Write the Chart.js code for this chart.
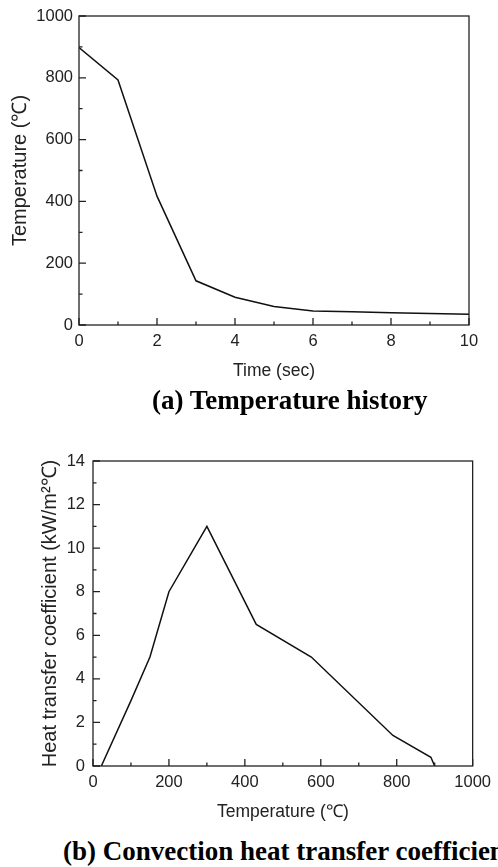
<!DOCTYPE html>
<html>
<head>
<meta charset="utf-8">
<script src="https://cdn.jsdelivr.net/npm/chart.js@4/dist/chart.umd.min.js"></script>
<style>
  html, body { margin: 0; padding: 0; background: #fff; overflow: hidden; width: 498px; height: 867px; }
  .wrap { position: absolute; left: 0; }
  .caption {
    position: absolute;
    font-family: "Liberation Serif", "Times New Roman", serif;
    font-weight: bold;
    font-size: 27px;
    line-height: 1;
    white-space: nowrap;
    color: #000;
  }
</style>
</head>
<body>
<div class="wrap" style="top:0"><canvas id="historyChart" width="498" height="390"></canvas></div>
<div class="caption" style="left:152px; top:387px">(a) Temperature history</div>
<div class="wrap" style="top:430px"><canvas id="coefChart" width="498" height="400"></canvas></div>
<div class="caption" style="left:63px; top:838px">(b) Convection heat transfer coefficient</div>

<script>
// (a) temperature history
const timeSec = [0, 1, 2, 3, 4, 5, 6, 7, 8, 9, 10];
const tempHistory = [898, 793, 417, 143, 90, 60, 45, 43, 40, 37, 35];

// (b) convection heat transfer coefficient vs temperature
const coefTemp = [22, 100, 150, 200, 300, 430, 575, 790, 890, 900];
const coefValue = [0, 3, 5, 8, 11, 6.5, 5, 1.4, 0.4, 0];

const tickFont = { family: '"Liberation Sans", Arial, sans-serif', size: 16.5 };
const xTitleFont = { family: '"Liberation Sans", Arial, sans-serif', size: 17.5 };
const yTitleFont = { family: '"Liberation Sans", Arial, sans-serif', size: 20 };
const inkColor = '#222';

// frame box plus inward major/minor ticks on the bottom and left axes
const frameTicks = {
    id: 'frameTicks',
    afterDraw(chart) {
        const { ctx, chartArea: a, scales: { x, y } } = chart;
        ctx.save();
        ctx.strokeStyle = inkColor;
        ctx.lineWidth = 1.3;
        ctx.strokeRect(a.left, a.top, a.right - a.left, a.bottom - a.top);
        ctx.beginPath();
        const xv = x.ticks.map(t => t.value);
        xv.forEach((v, i) => {
            const px = x.getPixelForValue(v);
            ctx.moveTo(px, a.bottom);
            ctx.lineTo(px, a.bottom - 7);
            if (i < xv.length - 1) {
                const mx = x.getPixelForValue((v + xv[i + 1]) / 2);
                ctx.moveTo(mx, a.bottom);
                ctx.lineTo(mx, a.bottom - 3.5);
            }
        });
        const yv = y.ticks.map(t => t.value);
        yv.forEach((v, i) => {
            const py = y.getPixelForValue(v);
            ctx.moveTo(a.left, py);
            ctx.lineTo(a.left + 7, py);
            if (i < yv.length - 1) {
                const my = y.getPixelForValue((v + yv[i + 1]) / 2);
                ctx.moveTo(a.left, my);
                ctx.lineTo(a.left + 3.5, my);
            }
        });
        ctx.stroke();
        ctx.restore();
    }
};

function makeChart(id, xs, ys, cfg) {
    const ctx = document.getElementById(id).getContext('2d');
    return new Chart(ctx, {
        type: 'line',
        data: {
            datasets: [{
                data: xs.map((v, i) => ({ x: v, y: ys[i] })),
                borderColor: '#111',
                borderWidth: 1.5,
                pointRadius: 0,
                tension: 0,
                fill: false
            }]
        },
        options: {
            responsive: false,
            animation: false,
            layout: { padding: cfg.padding },
            plugins: { legend: { display: false }, tooltip: { enabled: false } },
            scales: {
                x: {
                    type: 'linear',
                    min: cfg.xMin, max: cfg.xMax,
                    grid: { display: false, drawTicks: false },
                    border: { display: false },
                    ticks: { stepSize: cfg.xStep, font: tickFont, color: inkColor, padding: 7, maxRotation: 0,
                             callback: v => String(v) },
                    title: { display: true, text: cfg.xTitle, font: xTitleFont, color: inkColor, padding: { top: 0, bottom: cfg.xTitlePad } },
                    afterFit: s => { s.height = cfg.xHeight; }
                },
                y: {
                    min: cfg.yMin, max: cfg.yMax,
                    grid: { display: false, drawTicks: false },
                    border: { display: false },
                    ticks: { stepSize: cfg.yStep, font: tickFont, color: inkColor, padding: cfg.yTickPad,
                             callback: v => String(v) },
                    title: { display: true, text: cfg.yTitle, font: yTitleFont, color: inkColor, padding: { top: cfg.yTitlePad, bottom: 0 } },
                    afterFit: s => { s.width = cfg.yWidth; }
                }
            }
        },
        plugins: [frameTicks]
    });
}

makeChart('historyChart', timeSec, tempHistory, {
    padding: { top: 16, right: 29, bottom: 0, left: 0 },
    xMin: 0, xMax: 10, xStep: 2,
    yMin: 0, yMax: 1000, yStep: 200,
    xTitle: 'Time (sec)', yTitle: 'Temperature (℃)',
    xHeight: 65, xTitlePad: 8,
    yWidth: 79, yTickPad: 6, yTitlePad: 8
});

makeChart('coefChart', coefTemp, coefValue, {
    padding: { top: 31, right: 20, bottom: 0, left: 0 },
    xMin: 0, xMax: 1000, xStep: 200,
    yMin: 0, yMax: 14, yStep: 2,
    xTitle: 'Temperature (℃)', yTitle: 'Heat transfer coefficient (kW/m²℃)',
    xHeight: 64, xTitlePad: 7,
    yWidth: 93, yTickPad: 8, yTitlePad: 38
});
</script>
</body>
</html>
